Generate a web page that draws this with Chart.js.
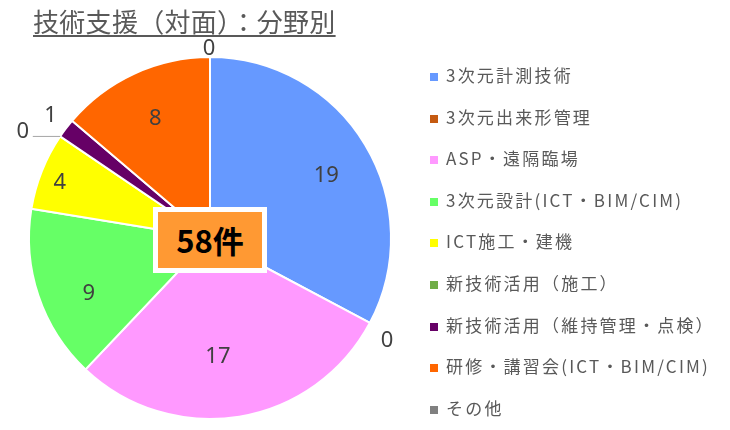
<!DOCTYPE html>
<html>
<head>
<meta charset="utf-8">
<script src="https://cdn.jsdelivr.net/npm/chart.js@4/dist/chart.umd.min.js"></script>
<style>
  html, body { margin: 0; padding: 0; background: #ffffff; }
  #wrap { position: relative; width: 730px; height: 430px; overflow: hidden; }
  #c { position: absolute; left: 0; top: 0; }
  #title {
    position: absolute; left: 33px; top: 4px;
    font-family: "Noto Sans CJK JP", "Noto Sans", sans-serif;
    font-size: 26px; line-height: 34px; color: #595959; letter-spacing: 0.3px;
    text-decoration: underline; text-decoration-thickness: 2px; text-underline-offset: 3px;
    white-space: nowrap;
  }
  #legend { position: absolute; left: 430px; top: 0; }
  .item {
    position: absolute; left: 0; height: 24px; white-space: nowrap;
    font-family: "Noto Sans CJK JP", "Noto Sans", sans-serif;
    font-size: 17px; line-height: 24px; color: #595959; letter-spacing: 2.2px;
  }
  .sw { display: inline-block; width: 8px; height: 8px; margin-right: 8px; vertical-align: 1px; }
  #total {
    position: absolute; left: 153px; top: 207px; width: 104px; height: 56px;
    border: 5px solid #ffffff; background: #FF9933;
    font-family: "Noto Sans CJK JP", "Noto Sans", sans-serif; font-weight: bold;
    font-size: 31px; line-height: 56px; text-align: center; color: #000000;
  }
</style>
</head>
<body>
<div id="wrap">
  <canvas id="c" width="730" height="430"></canvas>
  <div id="title">技術支援（対面）：分野別</div>
  <div id="legend"></div>
  <div id="total"></div>
</div>
<script>
// ---- data ----
const categories = [
  "3次元計測技術",
  "3次元出来形管理",
  "ASP・遠隔臨場",
  "3次元設計(ICT・BIM/CIM)",
  "ICT施工・建機",
  "新技術活用（施工）",
  "新技術活用（維持管理・点検）",
  "研修・講習会(ICT・BIM/CIM)",
  "その他"
];
const counts = [19, 0, 17, 9, 4, 0, 1, 8, 0];
const totalLabel = "件";

// ---- style ----
const sliceColors = ["#6699FF", "#C55A11", "#FF99FF", "#66FF66", "#FFFF00", "#70AD47", "#660066", "#FF6600", "#808080"];
const labelRadius = [0.73, 1.13, 0.66, 0.737, 0.885, 1.19, 1.11, 0.725, 1.044];
const labelShiftDeg = [2.7, 2.1, 5.5, -6.1, -1.4, -4.5, 0.2, 0.2, -0.3];
const labelLeader = [false, false, false, false, false, true, false, false, false];

const sliceLabels = {
  id: 'sliceLabels',
  afterDatasetsDraw(chart) {
    const ctx = chart.ctx;
    const meta = chart.getDatasetMeta(0);
    ctx.save();
    ctx.font = '22px "Noto Sans", "Open Sans", sans-serif';
    ctx.fillStyle = '#404040';
    ctx.textAlign = 'center';
    ctx.textBaseline = 'middle';
    meta.data.forEach((arc, i) => {
      const p = arc.getProps(['x', 'y', 'startAngle', 'endAngle', 'outerRadius'], true);
      const base = (p.startAngle + p.endAngle) / 2;
      const ang = base + labelShiftDeg[i] * Math.PI / 180;
      const r = p.outerRadius * labelRadius[i];
      const lx = p.x + Math.cos(ang) * r;
      const ly = p.y + Math.sin(ang) * r;
      if (labelLeader[i]) {
        const ex = p.x + Math.cos(base) * p.outerRadius;
        const ey = p.y + Math.sin(base) * p.outerRadius;
        ctx.beginPath();
        ctx.strokeStyle = '#A6A6A6';
        ctx.lineWidth = 1;
        ctx.moveTo(ex, ey);
        ctx.lineTo(lx + 10, ey);
        ctx.stroke();
      }
      ctx.fillText(String(counts[i]), lx, ly);
    });
    ctx.restore();
  }
};

const chart = new Chart(document.getElementById('c'), {
  type: 'pie',
  data: {
    labels: categories,
    datasets: [{
      data: counts,
      backgroundColor: sliceColors,
      borderColor: '#ffffff',
      borderWidth: 2
    }]
  },
  options: {
    responsive: false,
    animation: false,
    layout: { padding: { left: 28, right: 338, top: 56, bottom: 10 } },
    plugins: { legend: { display: false }, tooltip: { enabled: false } }
  },
  plugins: [sliceLabels]
});

// legend (HTML, built from the data arrays)
const legend = document.getElementById('legend');
categories.forEach((name, i) => {
  const d = document.createElement('div');
  d.className = 'item';
  d.style.top = (63 + i * 41.6) + 'px';
  const sw = document.createElement('span');
  sw.className = 'sw';
  sw.style.background = sliceColors[i];
  d.appendChild(sw);
  d.appendChild(document.createTextNode(name));
  legend.appendChild(d);
});
document.getElementById('total').textContent = counts.reduce((a, b) => a + b, 0) + totalLabel;
</script>
</body>
</html>
